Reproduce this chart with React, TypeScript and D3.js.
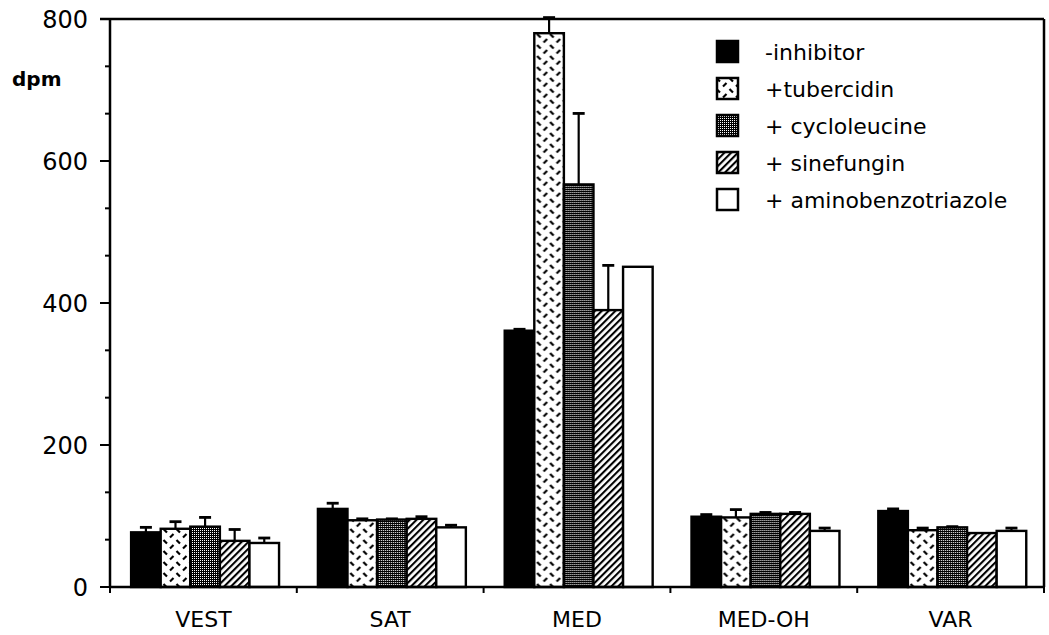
import React from "react";
import * as d3 from "d3";

const categories = ["VEST", "SAT", "MED", "MED-OH", "VAR"];
const seriesNames = ["-inhibitor", "+tubercidin", "+ cycloleucine", "+ sinefungin", "+ aminobenzotriazole"];

const inhibitorValues = [77, 110, 361, 99, 107];
const inhibitorErrors = [7, 8, 2, 3, 3];
const tubercidinValues = [82, 94, 780, 98, 80];
const tubercidinErrors = [10, 2, 22, 11, 3];
const cycloleucineValues = [85, 95, 567, 103, 84];
const cycloleucineErrors = [13, 1, 100, 2, 1];
const sinefunginValues = [65, 96, 390, 103, 76];
const sinefunginErrors = [16, 3, 63, 2, 0];
const aminobenzotriazoleValues = [62, 84, 451, 79, 79];
const aminobenzotriazoleErrors = [7, 3, 0, 4, 4];

const majorTicks = [0, 200, 400, 600, 800];
const yLabel = "dpm";

const seriesValues = [inhibitorValues, tubercidinValues, cycloleucineValues, sinefunginValues, aminobenzotriazoleValues];
const seriesErrors = [inhibitorErrors, tubercidinErrors, cycloleucineErrors, sinefunginErrors, aminobenzotriazoleErrors];
const fills = ["#000", "url(#pTub)", "url(#pCyc)", "url(#pSin)", "#fff"];

const W = 1049;
const H = 635;
const PL = 110, PR = 1044, PT = 19, PB = 587;
const FONT = "'DejaVu Sans', Verdana, sans-serif";

export default function App() {
  const y = d3.scaleLinear().domain([0, 800]).range([PB, PT]);
  const x0 = d3.scaleBand<string>().domain(categories).range([PL, PR]).paddingInner(0).paddingOuter(0);
  const bw = x0.bandwidth();
  const x1 = d3.scaleBand<string>().domain(seriesNames).range([bw * 0.113, bw * 0.905]);
  const minorTicks = d3.range(0, 800, 200 / 3);
  const boundaries = [...categories.map((c) => x0(c)!), PR];

  return (
    <svg width={W} height={H} style={{ position: "absolute", left: 0, top: 0, background: "#fff" }} fontFamily={FONT}>
      <defs>
        <pattern id="pTub" patternUnits="userSpaceOnUse" width={13} height={11}>
          <rect width={13} height={11} fill="#fff" />
          <line x1={1.5} y1={1} x2={5} y2={4.5} stroke="#000" strokeWidth={2.2} />
          <line x1={8} y1={9.5} x2={11.5} y2={6} stroke="#000" strokeWidth={2.2} />
        </pattern>
        <pattern id="pCyc" patternUnits="userSpaceOnUse" width={2} height={2}>
          <rect width={2} height={2} fill="#000" />
          <rect width={1} height={1} fill="#fff" />
        </pattern>
        <pattern id="pSin" patternUnits="userSpaceOnUse" width={4.8} height={10} patternTransform="rotate(45)">
          <rect width={4.8} height={10} fill="#fff" />
          <line x1={1} y1={0} x2={1} y2={10} stroke="#000" strokeWidth={2.2} />
        </pattern>
      </defs>

      {/* bars */}
      {categories.map((c, ci) => (
        <g key={c} transform={`translate(${x0(c)},0)`}>
          {seriesNames.map((s, si) => {
            const v = seriesValues[si][ci];
            const e = seriesErrors[si][ci];
            const bx = x1(s)!;
            const w = x1.bandwidth();
            const cx = bx + w / 2;
            return (
              <g key={s}>
                {e > 0 && (
                  <g stroke="#000" strokeWidth={2.2}>
                    <line x1={cx} x2={cx} y1={y(v)} y2={y(v + e)} />
                    <line x1={cx - 6} x2={cx + 6} y1={y(v + e)} y2={y(v + e)} strokeWidth={2.8} />
                  </g>
                )}
                <rect x={bx} y={y(v)} width={w} height={y(0) - y(v)} fill={fills[si]} stroke="#000" strokeWidth={2.4} />
              </g>
            );
          })}
        </g>
      ))}

      {/* frame */}
      <g stroke="#000" strokeWidth={2.5} fill="none">
        <line x1={PL} x2={PL} y1={PT} y2={PB} />
        <line x1={PL} x2={PR} y1={PB} y2={PB} />
        <line x1={PL - 10} x2={PR} y1={PT} y2={PT} />
        <line x1={PR} x2={PR} y1={PT} y2={PB} />
      </g>

      {/* y ticks */}
      <g stroke="#000" strokeWidth={2}>
        {minorTicks.map((t) => (
          <line key={"m" + t} x1={PL - 5} x2={PL} y1={y(t)} y2={y(t)} />
        ))}
        {majorTicks.map((t) => (
          <line key={"M" + t} x1={PL - 10} x2={PL} y1={y(t)} y2={y(t)} />
        ))}
      </g>
      {majorTicks.map((t) => (
        <text key={"l" + t} x={PL - 22} y={y(t)} dy="0.36em" textAnchor="end" fontSize={24} fill="#000">
          {t}
        </text>
      ))}
      <text x={12} y={86} fontSize={20} fontWeight="bold" fill="#000">{yLabel}</text>

      {/* x ticks */}
      <g stroke="#000" strokeWidth={2}>
        {boundaries.map((b, i) => (
          <line key={i} x1={b} x2={b} y1={PB} y2={PB + 6} />
        ))}
      </g>
      {categories.map((c) => (
        <text key={c} x={x0(c)! + bw / 2} y={627} textAnchor="middle" fontSize={22} fill="#000">
          {c}
        </text>
      ))}

      {/* legend */}
      {seriesNames.map((s, si) => {
        const cy = 52 + si * 37;
        return (
          <g key={s}>
            <rect x={717} y={cy - 11} width={21} height={21} fill={fills[si]} stroke="#000" strokeWidth={2.5} />
            <text x={765} y={cy} dy="0.36em" fontSize={22} fill="#000">{s}</text>
          </g>
        );
      })}
    </svg>
  );
}
